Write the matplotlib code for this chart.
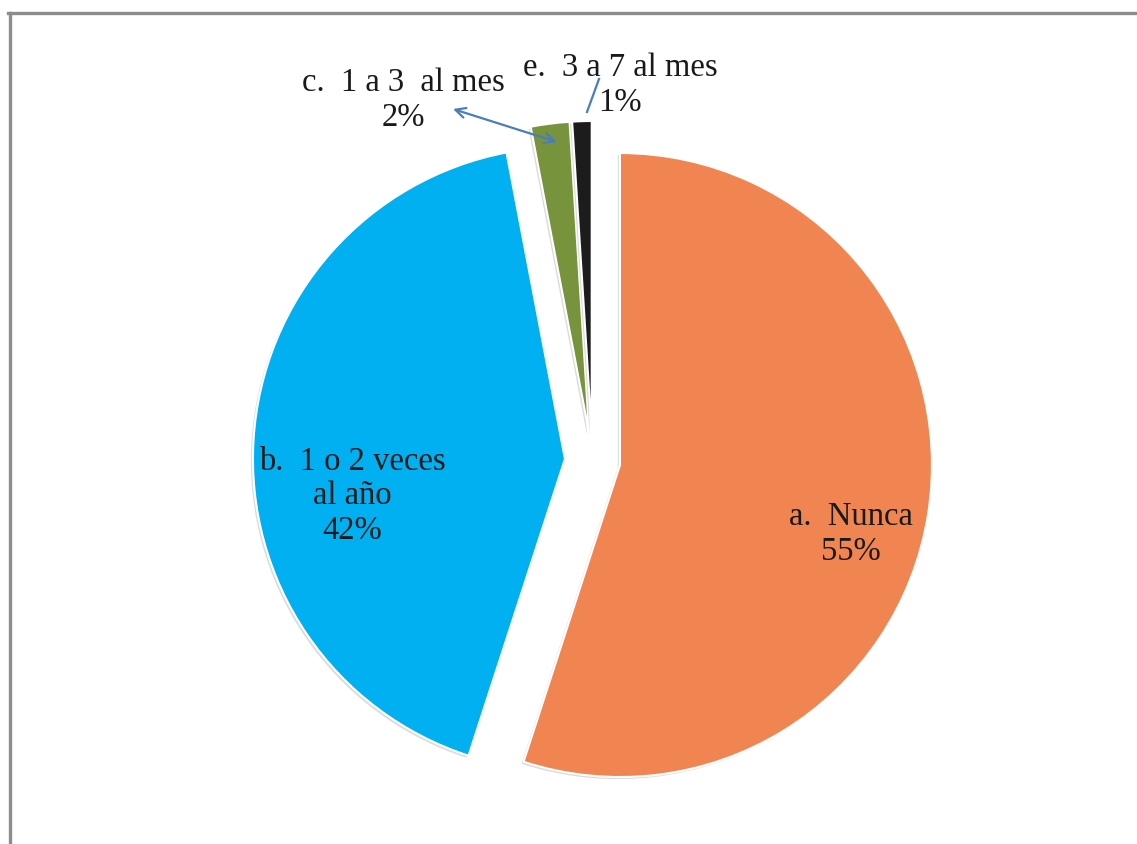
import matplotlib
matplotlib.use("Agg")
import matplotlib.pyplot as plt
import matplotlib.patheffects as pe
from matplotlib.lines import Line2D

# Frequency categories and their shares (%)
categories = ["a.  Nunca", "b.  1 o 2 veces\nal año", "c.  1 a 3  al mes", "e.  3 a 7 al mes"]
values = [55, 42, 2, 1]
colors = ["#F08552", "#00B0F0", "#77933C", "#1C1C1C"]

W, H = 1137, 844
fig = plt.figure(figsize=(W / 100, H / 100), dpi=100)
ax = fig.add_axes([0, 0, 1, 1])

center = (592.6, H - 460.7)
radius = 312
# pie() offsets exploded wedges in data units
explode = [27.7] * len(values)

wedges, _ = ax.pie(values, colors=colors, startangle=90, counterclock=False,
                   explode=explode, center=center, radius=radius, frame=True,
                   wedgeprops=dict(edgecolor="white", linewidth=1.5))
for w in wedges:
    w.set_path_effects([pe.SimplePatchShadow(offset=(-1.5, -1.5), shadow_rgbFace="#9a9a9a", alpha=0.35),
                        pe.Normal()])
ax.set_xlim(0, W)
ax.set_ylim(0, H)
ax.set_aspect("equal")
ax.axis("off")

font = dict(family="Liberation Serif", fontsize=23.5, color="#1a1a1a",
            ha="center", va="center", multialignment="center", linespacing=1.18)

label_pos = [(851, 534), (352, 496), (403, 100), (620, 85)]
for (x, y), cat, v in zip(label_pos, categories, values):
    ax.text(x, H - y, f"{cat}\n{v}%", **font)

# Leader lines for the two small slices
arrow_color = "#4A7EBB"
ax.annotate("", xy=(453, H - 109), xytext=(557, H - 142),
            arrowprops=dict(arrowstyle="<->", color=arrow_color, lw=1.6,
                            mutation_scale=18, shrinkA=0, shrinkB=0))
ax.plot([587, 599], [H - 112, H - 79], color=arrow_color, lw=1.6)

# Frame lines along the top and left edges
fig.add_artist(Line2D([8 / W, 1], [1 - 13 / H, 1 - 13 / H], transform=fig.transFigure,
                      color="#8c8c8c", lw=2.4))
fig.add_artist(Line2D([9.5 / W, 9.5 / W], [0, 1 - 13 / H], transform=fig.transFigure,
                      color="#8c8c8c", lw=2.4))

fig.savefig("out.png", dpi=100, facecolor="white")
